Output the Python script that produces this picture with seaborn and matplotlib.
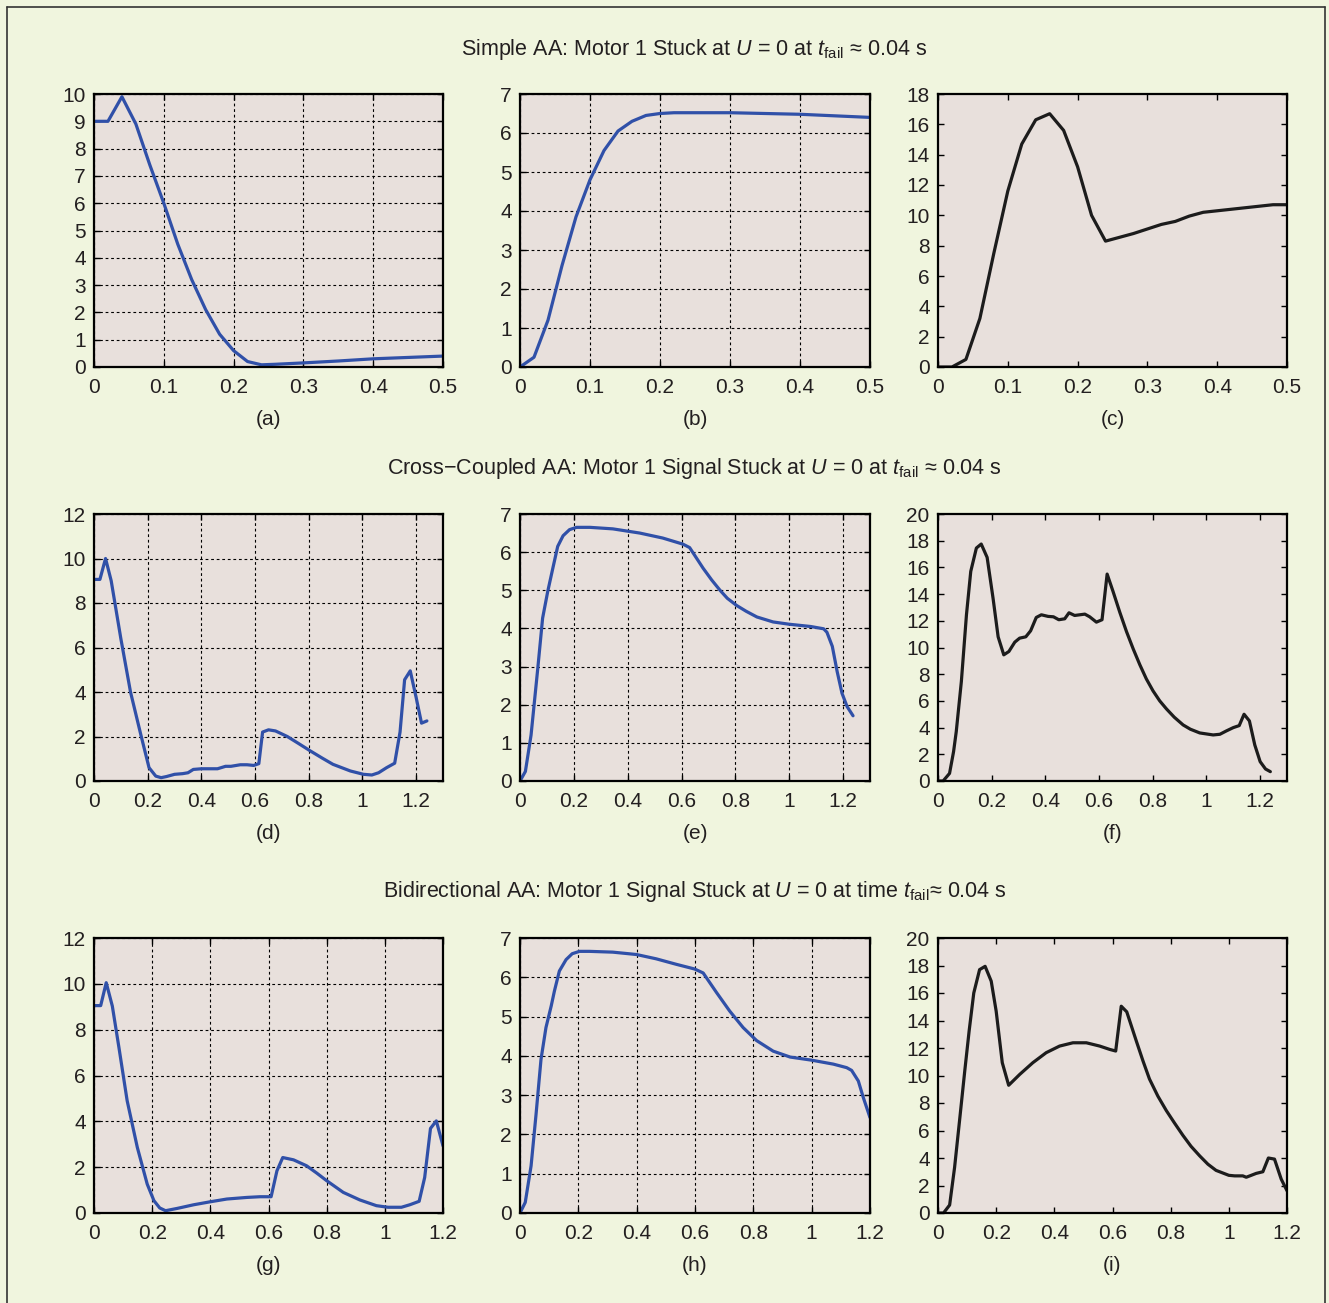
import numpy as np
import matplotlib
matplotlib.use("Agg")
import matplotlib.pyplot as plt
import seaborn as sns
from matplotlib.ticker import FuncFormatter, MultipleLocator
from matplotlib.lines import Line2D

# Panel data (time in s)
t_a = [0, 0.02, 0.04, 0.06, 0.08, 0.10, 0.12, 0.14, 0.16, 0.18, 0.20, 0.22, 0.24, 0.26, 0.30, 0.35, 0.40, 0.45, 0.50]
y_a = [9.0, 9.0, 9.9, 8.9, 7.4, 6.0, 4.5, 3.2, 2.1, 1.2, 0.6, 0.2, 0.08, 0.1, 0.15, 0.22, 0.3, 0.35, 0.4]

t_b = [0, 0.02, 0.04, 0.06, 0.08, 0.10, 0.12, 0.14, 0.16, 0.18, 0.20, 0.22, 0.30, 0.40, 0.50]
y_b = [0, 0.25, 1.2, 2.6, 3.85, 4.8, 5.55, 6.05, 6.3, 6.45, 6.5, 6.52, 6.52, 6.48, 6.4]

t_c = [0, 0.02, 0.04, 0.06, 0.08, 0.10, 0.12, 0.14, 0.16, 0.18, 0.20, 0.22, 0.24, 0.26, 0.28,
       0.30, 0.32, 0.34, 0.36, 0.38, 0.40, 0.42, 0.44, 0.46, 0.48, 0.50]
y_c = [0, 0, 0.5, 3.2, 7.5, 11.6, 14.7, 16.3, 16.7, 15.6, 13.2, 10.0, 8.3, 8.55, 8.8,
       9.1, 9.4, 9.6, 9.95, 10.2, 10.3, 10.4, 10.5, 10.6, 10.7, 10.7]

t_d = [0, 0.022, 0.043, 0.064, 0.1, 0.136, 0.174, 0.205, 0.23, 0.25, 0.27, 0.3, 0.33, 0.35, 0.37,
       0.4, 0.46, 0.49, 0.51, 0.545, 0.57, 0.595, 0.614, 0.628, 0.65, 0.676, 0.72, 0.76, 0.806,
       0.85, 0.89, 0.955, 1.004, 1.035, 1.06, 1.09, 1.12, 1.14, 1.157, 1.178, 1.2, 1.22, 1.24]
y_d = [9.06, 9.06, 10.0, 9.0, 6.4, 4.0, 2.1, 0.6, 0.22, 0.15, 0.2, 0.3, 0.33, 0.37, 0.52,
       0.55, 0.55, 0.66, 0.66, 0.73, 0.73, 0.7, 0.78, 2.2, 2.3, 2.25, 2.0, 1.7, 1.35,
       1.03, 0.75, 0.45, 0.3, 0.27, 0.37, 0.6, 0.8, 2.2, 4.55, 4.95, 3.75, 2.6, 2.7]

t_e = [0, 0.02, 0.041, 0.066, 0.084, 0.103, 0.122, 0.14, 0.16, 0.184, 0.21, 0.26, 0.345, 0.445,
       0.53, 0.605, 0.63, 0.68, 0.712, 0.743, 0.77, 0.805, 0.84, 0.88, 0.94, 1.0, 1.08, 1.128,
       1.14, 1.16, 1.178, 1.196, 1.215, 1.237]
y_e = [0, 0.25, 1.2, 2.95, 4.27, 4.97, 5.58, 6.15, 6.43, 6.59, 6.65, 6.65, 6.61, 6.5,
       6.37, 6.21, 6.12, 5.58, 5.27, 5.0, 4.79, 4.6, 4.45, 4.3, 4.17, 4.11, 4.05, 3.99,
       3.9, 3.53, 2.87, 2.3, 1.95, 1.71]

t_f = [0, 0.019, 0.043, 0.058, 0.068, 0.087, 0.106, 0.122, 0.143, 0.161, 0.183, 0.205, 0.224,
       0.245, 0.264, 0.286, 0.304, 0.327, 0.345, 0.366, 0.385, 0.41, 0.43, 0.45, 0.472, 0.488,
       0.509, 0.547, 0.565, 0.59, 0.611, 0.63, 0.652, 0.677, 0.702, 0.727, 0.752, 0.776, 0.801,
       0.826, 0.851, 0.88, 0.913, 0.94, 0.975, 1.025, 1.05, 1.074, 1.1, 1.122, 1.14, 1.16, 1.18,
       1.2, 1.22, 1.238]
y_f = [0, 0, 0.57, 2.2, 3.7, 7.45, 12.45, 15.7, 17.45, 17.75, 16.75, 13.7, 10.8,
       9.45, 9.7, 10.4, 10.7, 10.8, 11.25, 12.25, 12.45, 12.33, 12.3, 12.08, 12.15, 12.6,
       12.4, 12.5, 12.3, 11.9, 12.08, 15.5, 14.2, 12.65, 11.2, 9.9, 8.7, 7.65, 6.75,
       6.0, 5.4, 4.78, 4.2, 3.88, 3.6, 3.45, 3.5, 3.75, 4.0, 4.15, 5.0, 4.5, 2.7,
       1.45, 0.9, 0.7]

t_g = [0, 0.023, 0.042, 0.063, 0.086, 0.114, 0.149, 0.183, 0.206, 0.226, 0.246, 0.286, 0.343,
       0.4, 0.457, 0.526, 0.571, 0.609, 0.629, 0.649, 0.686, 0.731, 0.766, 0.8, 0.857, 0.914,
       0.971, 1.011, 1.057, 1.086, 1.118, 1.137, 1.157, 1.177, 1.2]
y_g = [9.05, 9.05, 10.05, 9.03, 7.2, 4.9, 2.86, 1.26, 0.54, 0.22, 0.1, 0.2, 0.36,
       0.49, 0.61, 0.68, 0.71, 0.71, 1.84, 2.42, 2.32, 2.06, 1.74, 1.41, 0.9, 0.57,
       0.32, 0.25, 0.25, 0.36, 0.51, 1.55, 3.69, 4.02, 2.93]

t_h = [0, 0.018, 0.038, 0.055, 0.072, 0.089, 0.107, 0.118, 0.135, 0.158, 0.179, 0.204, 0.238,
       0.318, 0.399, 0.467, 0.536, 0.599, 0.628, 0.674, 0.719, 0.765, 0.811, 0.868, 0.926, 1.0,
       1.074, 1.12, 1.137, 1.16, 1.177, 1.2]
y_h = [0, 0.27, 1.2, 2.51, 3.91, 4.72, 5.27, 5.65, 6.16, 6.45, 6.6, 6.66, 6.66,
       6.64, 6.58, 6.47, 6.33, 6.21, 6.11, 5.61, 5.14, 4.72, 4.39, 4.12, 3.97, 3.89,
       3.79, 3.7, 3.63, 3.36, 2.94, 2.43]

t_i = [0, 0.019, 0.04, 0.057, 0.074, 0.092, 0.107, 0.123, 0.143, 0.162, 0.183, 0.2, 0.221, 0.243,
       0.281, 0.326, 0.372, 0.418, 0.464, 0.51, 0.556, 0.59, 0.611, 0.63, 0.649, 0.682, 0.705,
       0.727, 0.756, 0.785, 0.813, 0.842, 0.87, 0.9, 0.928, 0.956, 1.0, 1.02, 1.048, 1.06, 1.094,
       1.117, 1.136, 1.157, 1.18, 1.2]
y_i = [0, 0, 0.58, 3.31, 6.7, 10.33, 13.23, 16.0, 17.7, 17.94, 16.86, 14.68, 10.93, 9.29,
       10.08, 10.93, 11.66, 12.14, 12.38, 12.38, 12.14, 11.9, 11.78, 15.04, 14.63, 12.5, 11.05,
       9.75, 8.5, 7.45, 6.55, 5.65, 4.85, 4.15, 3.55, 3.1, 2.74, 2.7, 2.7, 2.6, 2.88,
       3.0, 4.0, 3.92, 2.47, 1.62]

row_titles = [
    "Simple AA: Motor 1 Stuck at $U$ = 0 at $t_{\\mathrm{fail}}$ \u2248 0.04 s",
    "Cross\u2212Coupled AA: Motor 1 Signal Stuck at $U$ = 0 at $t_{\\mathrm{fail}}$ \u2248 0.04 s",
    "Bidirectional AA: Motor 1 Signal Stuck at $U$ = 0 at time $t_{\\mathrm{fail}}$\u2248 0.04 s",
]
panel_labels = ["(a)", "(b)", "(c)", "(d)", "(e)", "(f)", "(g)", "(h)", "(i)"]

sns.set_style("ticks")
plt.rcParams["font.family"] = ["Liberation Sans", "DejaVu Sans"]
plt.rcParams["mathtext.fontset"] = "custom"
plt.rcParams["mathtext.rm"] = "Liberation Sans"
plt.rcParams["mathtext.it"] = "Liberation Sans:italic"
plt.rcParams["mathtext.bf"] = "Liberation Sans:bold"

BG = "#f0f5de"
FACE = "#e8e0dc"
BLUE = "#3050a8"
DARK = "#1c1c1c"
TXT = "#231f20"

fig = plt.figure(figsize=(13.29, 13.03), dpi=100, facecolor=BG)
W, H = 1329, 1303

# axes boxes in pixels: (x0, x1) per column, (top, bottom) per row
cols = [(94, 443), (520, 870), (938, 1287)]
rows = [(94, 367), (514, 781), (938, 1213)]

series = [
    (t_a, y_a), (t_b, y_b), (t_c, y_c),
    (t_d, y_d), (t_e, y_e), (t_f, y_f),
    (t_g, y_g), (t_h, y_h), (t_i, y_i),
]
ylims = [10, 7, 18, 12, 7, 20, 12, 7, 20]
ysteps = [1, 1, 2, 2, 1, 2, 2, 1, 2]
xlims = [0.5, 1.3, 1.2]
xsteps = [0.1, 0.2, 0.2]

fmt = FuncFormatter(lambda v, p: "%g" % round(v, 6))

for r, (top, bot) in enumerate(rows):
    for c, (x0, x1) in enumerate(cols):
        k = r * 3 + c
        ax = fig.add_axes([x0 / W, 1 - bot / H, (x1 - x0) / W, (bot - top) / H])
        ax.set_facecolor(FACE)
        t, y = series[k]
        sns.lineplot(x=t, y=y, ax=ax, color=DARK if c == 2 else BLUE,
                     linewidth=2.3, sort=False, estimator=None)
        ax.set_xlim(0, xlims[r])
        ax.set_ylim(0, ylims[k])
        ax.xaxis.set_major_locator(MultipleLocator(xsteps[r]))
        ax.yaxis.set_major_locator(MultipleLocator(ysteps[k]))
        ax.xaxis.set_major_formatter(fmt)
        ax.yaxis.set_major_formatter(fmt)
        ax.tick_params(direction="in", length=4, width=1, top=True, right=True,
                       labelsize=15, colors="black", labelcolor=TXT, pad=6)
        ax.tick_params(axis="x", pad=8)
        if c < 2:
            ax.grid(True, color="black", linestyle=(0, (2.5, 2.5)), linewidth=0.8)
        else:
            ax.grid(False)
        for s in ax.spines.values():
            s.set_linewidth(1.6)
            s.set_color("black")
            s.set_visible(True)
        ax.set_xlabel("")
        ax.set_ylabel("")
        ax.annotate(panel_labels[k], (0.5, 0), xycoords="axes fraction",
                    xytext=(0, -38), textcoords="offset points",
                    ha="center", va="center", fontsize=15, color=TXT)

title_y = [49, 469, 891]
for r in range(3):
    fig.text(694.5 / W, 1 - title_y[r] / H, row_titles[r], ha="center", va="center",
             fontsize=15.5, color=TXT)

# outer frame
fx0, fx1, fy0 = 7 / W, 1325 / W, 1 - 7 / H
for xs, ys in [([fx0, fx0], [-0.01, fy0]), ([fx0, fx1], [fy0, fy0]), ([fx1, fx1], [fy0, -0.01])]:
    fig.add_artist(Line2D(xs, ys, transform=fig.transFigure, color="#333333", linewidth=1.2))

fig.savefig("out.png", dpi=100, facecolor=BG)
